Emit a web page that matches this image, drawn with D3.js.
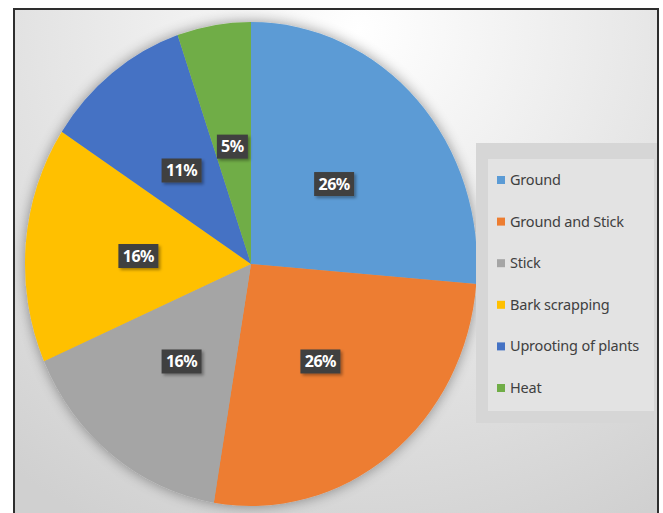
<!DOCTYPE html>
<html>
<head>
<meta charset="utf-8">
<script src="https://cdn.jsdelivr.net/npm/d3@7"></script>
<style>
  body { margin: 0; background: #fff; }
  svg { display: block; }
</style>
</head>
<body>
<svg width="663" height="513"></svg>
<script>
// data
var categories = ["Ground", "Ground and Stick", "Stick", "Bark scrapping", "Uprooting of plants", "Heat"];
var counts = [5, 5, 3, 3, 2, 1];
var colors = ["#5B9BD5", "#ED7D31", "#A5A5A5", "#FFC000", "#4472C4", "#70AD47"];

var svg = d3.select("svg"),
    width = +svg.attr("width"),
    height = +svg.attr("height");

var defs = svg.append("defs");

// background gradient
var bg = defs.append("radialGradient")
    .attr("id", "bg")
    .attr("gradientUnits", "userSpaceOnUse")
    .attr("cx", 360).attr("cy", 30).attr("r", 560);
bg.append("stop").attr("offset", "0%").attr("stop-color", "#ffffff");
bg.append("stop").attr("offset", "100%").attr("stop-color", "#d0d0d0");

// soft shadow round the pie
var sh = defs.append("filter").attr("id", "pieShadow")
    .attr("x", "-20%").attr("y", "-20%").attr("width", "140%").attr("height", "140%");
sh.append("feGaussianBlur").attr("in", "SourceAlpha").attr("stdDeviation", 7).attr("result", "b");
sh.append("feComponentTransfer").attr("in", "b").attr("result", "s")
  .append("feFuncA").attr("type", "linear").attr("slope", 0.4);
var m = sh.append("feMerge");
m.append("feMergeNode").attr("in", "s");
m.append("feMergeNode").attr("in", "SourceGraphic");

var ls = defs.append("filter").attr("id", "lblShadow")
    .attr("x", "-30%").attr("y", "-30%").attr("width", "170%").attr("height", "170%");
ls.append("feDropShadow").attr("dx", 2).attr("dy", 2).attr("stdDeviation", 1.5)
  .attr("flood-color", "#000").attr("flood-opacity", 0.35);

// chart area
svg.append("rect")
    .attr("x", 14).attr("y", 9)
    .attr("width", 644).attr("height", 510)
    .attr("fill", "url(#bg)")
    .attr("stroke", "#2e2e2e").attr("stroke-width", 2);

// pie (slightly taller than wide, as in the picture)
var cx = 251, cy = 264, ry = 242, rx = 226, sx = rx / ry;
var total = d3.sum(counts);

var pie = d3.pie().sort(null);
var arc = d3.arc().innerRadius(0).outerRadius(ry);

var arcsData = pie(counts);

var g = svg.append("g")
    .attr("transform", "translate(" + cx + "," + cy + ") scale(" + sx + ",1)")
    .attr("filter", "url(#pieShadow)");

g.selectAll("path")
    .data(arcsData)
    .enter()
    .append("path")
    .attr("fill", function(d, i) { return colors[i]; })
    .attr("d", arc);

function pct(d) { return Math.round(d.value / total * 100) + "%"; }

// data labels
var lg = svg.append("g").attr("transform", "translate(" + cx + "," + cy + ")");
var labels = lg.selectAll("g.lbl")
    .data(arcsData)
    .enter()
    .append("g")
    .attr("class", "lbl")
    .attr("transform", function(d) {
        var c = arc.centroid(d);
        return "translate(" + (c[0] * sx) + "," + (c[1] + 2) + ")";
    });

labels.append("rect")
    .attr("x", function(d) { return -(pct(d).length * 9 + 13) / 2; })
    .attr("y", -12)
    .attr("width", function(d) { return pct(d).length * 9 + 13; })
    .attr("height", 24)
    .attr("fill", "#404040")
    .attr("filter", "url(#lblShadow)");

labels.append("text")
    .attr("text-anchor", "middle")
    .attr("dy", "0.36em")
    .attr("fill", "#fff")
    .style("font-family", "'Noto Sans', sans-serif")
    .style("font-weight", "bold")
    .style("font-size", "16px")
    .style("letter-spacing", "-0.5px")
    .text(pct);

// legend
var legend = svg.append("g");
legend.append("rect")
    .attr("x", 476).attr("y", 143).attr("width", 181).attr("height", 280)
    .attr("fill", "#d6d6d6");
legend.append("rect")
    .attr("x", 488).attr("y", 159).attr("width", 166).attr("height", 252)
    .attr("fill", "#e3e3e3");

var legY = d3.scalePoint().domain(categories).range([180, 388]);

var items = legend.selectAll("g.item")
    .data(categories)
    .enter()
    .append("g")
    .attr("class", "item")
    .attr("transform", function(d) { return "translate(497," + legY(d) + ")"; });

items.append("rect")
    .attr("x", 0).attr("y", -4).attr("width", 8).attr("height", 8)
    .attr("fill", function(d, i) { return colors[i]; });

items.append("text")
    .attr("x", 13)
    .attr("dy", "0.35em")
    .attr("fill", "#404040")
    .style("font-family", "'Noto Sans', sans-serif")
    .style("font-size", "14.5px")
    .style("letter-spacing", "-0.2px")
    .text(function(d) { return d; });
</script>
</body>
</html>
